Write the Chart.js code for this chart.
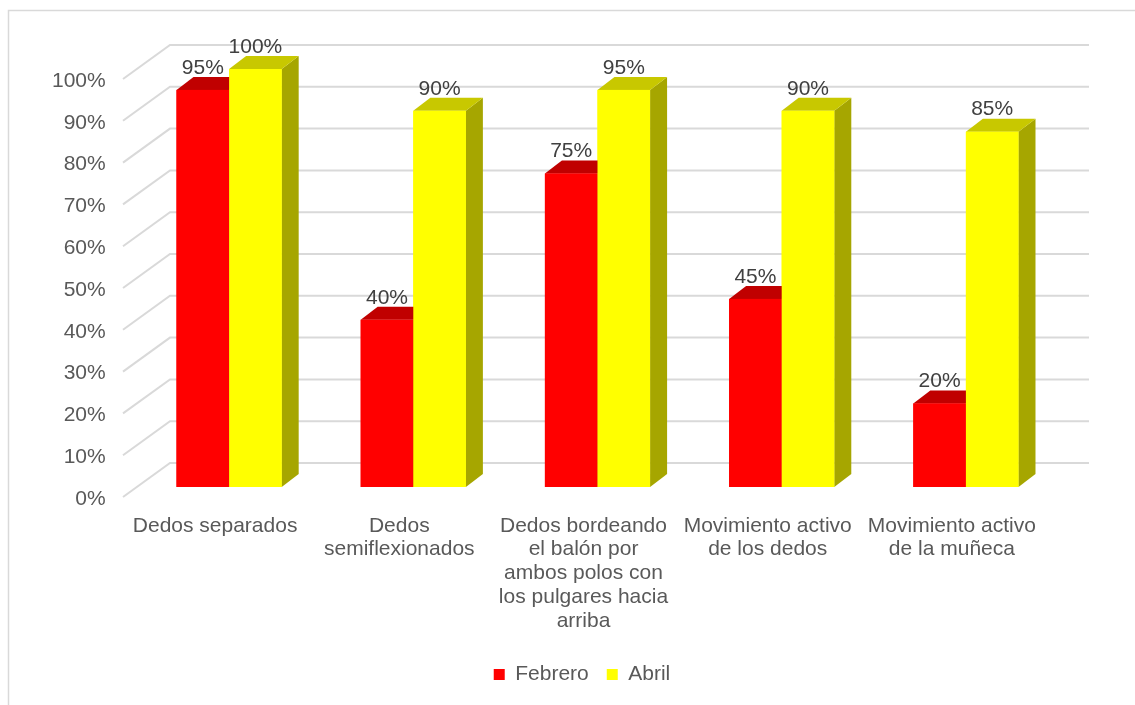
<!DOCTYPE html>
<html>
<head>
<meta charset="utf-8">
<script src="https://cdn.jsdelivr.net/npm/chart.js@4"></script>
<style>
  body { margin: 0; background: #fff; }
</style>
</head>
<body>
<canvas id="grafico" width="1135" height="705"></canvas>
<script>
// Datos del gráfico
const categorias = [
    ['Dedos separados'],
    ['Dedos', 'semiflexionados'],
    ['Dedos bordeando', 'el balón por', 'ambos polos con', 'los pulgares hacia', 'arriba'],
    ['Movimiento activo', 'de los dedos'],
    ['Movimiento activo', 'de la muñeca']
];
const febrero = [95, 40, 75, 45, 20];
const abril = [100, 90, 95, 90, 85];
const series = ['Febrero', 'Abril'];

// Colores: frente, tapa y lateral de cada serie
const coloresFrente = ['#ff0000', '#ffff00'];
const coloresTapa = ['#c00000', '#c8c800'];
const coloresLado = ['#a00000', '#a6a600'];

const fuente = "'Liberation Sans', Arial, sans-serif";
const grisTexto = '#595959';
const dx = 17; // profundidad de las barras
const dy = 13;

// Fondo, borde y rejilla en perspectiva
const fondo3D = {
    id: 'fondo3D',
    beforeDraw(chart) {
        const ctx = chart.ctx;
        ctx.save();
        ctx.fillStyle = '#fff';
        ctx.fillRect(0, 0, chart.width, chart.height);
        ctx.strokeStyle = '#d9d9d9';
        ctx.lineWidth = 1.5;
        ctx.strokeRect(8.5, 10.5, chart.width + 20, chart.height + 20);
        ctx.restore();
    },
    beforeDatasetsDraw(chart) {
        const { ctx, chartArea, scales: { y } } = chart;
        ctx.save();
        ctx.strokeStyle = '#d9d9d9';
        ctx.lineWidth = 2;
        y.ticks.forEach(t => {
            const py = y.getPixelForValue(t.value);
            ctx.beginPath();
            ctx.moveTo(chartArea.left - 14, py + 10);
            ctx.lineTo(chartArea.left + 33, py - 24);
            ctx.lineTo(chartArea.right + 31, py - 24);
            ctx.stroke();
        });
        ctx.restore();
    }
};

// Caras superior y lateral de las barras
const barras3D = {
    id: 'barras3D',
    afterDatasetsDraw(chart) {
        const ctx = chart.ctx;
        ctx.save();
        categorias.forEach((c, j) => {
            chart.data.datasets.forEach((ds, i) => {
                const el = chart.getDatasetMeta(i).data[j];
                const x1 = el.x - el.width / 2;
                const x2 = el.x + el.width / 2;
                const arriba = el.y;
                const base = el.base;

                ctx.fillStyle = coloresLado[i];
                ctx.beginPath();
                ctx.moveTo(x2, arriba);
                ctx.lineTo(x2 + dx, arriba - dy);
                ctx.lineTo(x2 + dx, base - dy);
                ctx.lineTo(x2, base);
                ctx.closePath();
                ctx.fill();

                ctx.fillStyle = coloresTapa[i];
                ctx.beginPath();
                ctx.moveTo(x1, arriba);
                ctx.lineTo(x2, arriba);
                ctx.lineTo(x2 + dx, arriba - dy);
                ctx.lineTo(x1 + dx, arriba - dy);
                ctx.closePath();
                ctx.fill();

                ctx.fillStyle = coloresFrente[i];
                ctx.fillRect(x1, arriba, x2 - x1, base - arriba);
            });
        });
        ctx.restore();
    }
};

// Etiquetas de valor sobre las barras
const etiquetas = {
    id: 'etiquetas',
    afterDatasetsDraw(chart) {
        const ctx = chart.ctx;
        ctx.save();
        ctx.font = '21px ' + fuente;
        ctx.fillStyle = '#404040';
        ctx.textAlign = 'center';
        ctx.textBaseline = 'middle';
        chart.data.datasets.forEach((ds, i) => {
            chart.getDatasetMeta(i).data.forEach((el, j) => {
                ctx.fillText(ds.data[j] + '%', el.x, el.y - 22);
            });
        });
        ctx.restore();
    }
};

new Chart(document.getElementById('grafico'), {
    type: 'bar',
    data: {
        labels: categorias,
        datasets: [
            { label: series[0], data: febrero, backgroundColor: coloresFrente[0] },
            { label: series[1], data: abril, backgroundColor: coloresFrente[1] }
        ]
    },
    options: {
        responsive: false,
        animation: false,
        categoryPercentage: 0.571,
        barPercentage: 1,
        layout: { padding: { left: 106, right: 77, top: 69, bottom: 10 } },
        scales: {
            x: {
                grid: { display: false },
                border: { display: false },
                ticks: {
                    font: { family: fuente, size: 21, lineHeight: 1.13 },
                    color: grisTexto,
                    padding: 19,
                    labelOffset: -14,
                    maxRotation: 0,
                    autoSkip: false
                },
                afterFit: s => { s.height = 159; }
            },
            y: {
                min: 0,
                max: 100,
                grid: { display: false, drawTicks: false },
                border: { display: false },
                ticks: {
                    stepSize: 10,
                    font: { family: fuente, size: 21 },
                    color: grisTexto,
                    mirror: true,
                    crossAlign: 'far',
                    padding: -85,
                    labelOffset: 12,
                    callback: v => v + '%'
                },
                afterFit: s => { s.width = 31; }
            }
        },
        plugins: {
            legend: {
                position: 'bottom',
                labels: {
                    boxWidth: 11,
                    boxHeight: 11,
                    padding: 18,
                    font: { family: fuente, size: 21 },
                    color: grisTexto
                }
            },
            tooltip: { enabled: false }
        }
    },
    plugins: [fondo3D, barras3D, etiquetas]
});
</script>
</body>
</html>
